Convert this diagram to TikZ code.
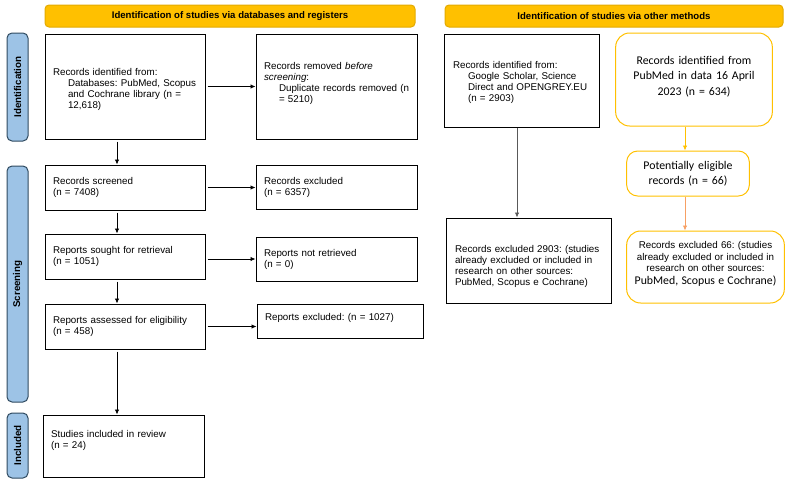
\documentclass[tikz,border=0pt]{standalone}
\usepackage{fontspec}
\setmainfont{Liberation Sans}
\newfontfamily\calfont{Carlito}
\usepackage{tikz}
\usetikzlibrary{arrows.meta}
\frenchspacing

\definecolor{hdrfill}{HTML}{FFC000}
\definecolor{hdrdraw}{HTML}{E3AA00}
\definecolor{phasefill}{HTML}{9DC3E6}
\definecolor{phasedraw}{HTML}{2F4A60}
\definecolor{ylwline}{HTML}{FFC000}
\definecolor{orgline}{HTML}{F7A064}
\definecolor{grayline}{HTML}{595959}

% indented block of lines
\newcommand{\indblock}[1]{\hspace*{15pt}\begin{tabular}[t]{@{}l@{}}#1\end{tabular}}

\tikzset{
	box/.style={shape=rectangle, draw=black, line width=1pt, align=left, inner xsep=8pt,
		font=\fontsize{9.8}{11}\selectfont},
	header/.style={shape=rectangle, rounded corners=4pt, draw=hdrdraw, fill=hdrfill, line width=1pt,
		minimum height=22pt, font=\bfseries\fontsize{9.6}{11}\selectfont},
	phase/.style={shape=rectangle, rounded corners=5pt, draw=phasedraw, fill=phasefill, line width=1pt,
		rotate=90, minimum height=21pt, font=\bfseries\fontsize{9.8}{11}\selectfont},
	softbox/.style={shape=rectangle, rounded corners=14pt, draw=ylwline, line width=1pt, align=center,
		font=\calfont\fontsize{11.8}{15.5}\selectfont},
	flow/.style={->, line width=0.8pt, shorten <=2pt},
	>={Latex[length=5pt,width=4.5pt]}
}

\begin{document}
\begin{tikzpicture}[x=1pt, y=-1pt]
	
	\useasboundingbox (0,0) rectangle (795,482);
	
	% headers
	\node[header, minimum width=370pt] (hdb) at (230, 16) {Identification of studies via databases and registers};
	\node[header, minimum width=338pt] (hot) at (614, 16) {Identification of studies via other methods};
	
	% phases
	\node[phase, minimum width=108pt] (phid) at (17.5, 87) {Identification};
	\node[phase, minimum width=236pt] (phsc) at (17.5, 284) {Screening};
	\node[phase, minimum width=65pt] (phin) at (17.5, 445.5) {Included};
	
	% databases and registers
	\node[box, text width=144pt, minimum height=105pt, text depth=29.5pt] (ida) at (125, 86.5)
		{Records identified from:\\ \indblock{Databases: PubMed, Scopus\\ and Cochrane library (n =\\ 12,618)}};
	\node[box, text width=145pt, minimum height=105pt, text depth=41pt] (remb) at (336.5, 86.5)
		{Records removed \emph{before}\\ \emph{screening}:\\ \indblock{Duplicate records removed (n\\ = 5210)}};
	\node[box, text width=144pt, minimum height=45pt] (scr) at (125, 187.5)
		{Records screened\\ (n = 7408)};
	\node[box, text width=145pt, minimum height=44pt] (rexcl) at (336.5, 187)
		{Records excluded\\ (n = 6357)};
	\node[box, text width=144pt, minimum height=45pt] (sought) at (125, 256.5)
		{Reports sought for retrieval\\ (n = 1051)};
	\node[box, text width=145pt, minimum height=44pt] (notret) at (336.5, 259)
		{Reports not retrieved\\ (n = 0)};
	\node[box, text width=144pt, minimum height=45pt] (asd) at (125, 326.5)
		{Reports assessed for eligibility\\ (n = 458)};
	\node[box, text width=150pt, minimum height=34pt, text depth=8pt] (repex) at (340, 321)
		{Reports excluded: (n = 1027)};
	\node[box, text width=145pt, minimum height=62pt, text depth=24pt] (incl) at (123.5, 446)
		{Studies included in review\\ (n = 24)};
	
	% other methods
	\node[box, inner xsep=9pt, text width=137pt, minimum height=93pt, text depth=31pt] (oth) at (521.5, 80.5)
		{Records identified from:\\ \indblock{Google Scholar, Science\\ Direct and OPENGREY.EU\\ (n = 2903)}};
	\node[box, inner xsep=9pt, text width=147pt, minimum height=85pt, text depth=24pt] (oex) at (528.5, 260.5)
		{Records excluded 2903: (studies\\ already excluded or included in\\ research on other sources:\\ PubMed, Scopus e Cochrane)};
	\node[softbox, text width=150pt, minimum height=93pt, text depth=39pt] (pmd) at (694, 79.5)
		{Records identified from\\ PubMed in data 16 April\\ 2023 (n = 634)};
	\node[softbox, rounded corners=11pt, text width=116pt, minimum height=45pt] (elig) at (688, 173.5)
		{Potentially eligible\\ records (n = 66)};
	\node[softbox, text width=151pt, minimum height=72pt, text depth=44pt, font=\fontsize{9.8}{11.5}\selectfont] (pex) at (705.5, 267)
		{Records excluded 66: (studies\\ already excluded or included in\\ research on other sources:\\[1pt] {\calfont\fontsize{11.8}{14}\selectfont PubMed, Scopus e Cochrane)}};
	
	\coordinate (spine) at (117, 0);
	\coordinate (ospine) at (517, 0);
	\coordinate (yspine) at (685, 0);
	
	\path[flow] (ida) edge (remb);
	\path[flow] (scr) edge (scr -| rexcl.west);
	\path[flow] (notret -| sought.east) edge (notret.west);
	\path[flow] (asd) edge (asd -| repex.west);
	\path[flow] (ida.south -| spine) edge (scr.north -| spine);
	\path[flow] (scr.south -| spine) edge (sought.north -| spine);
	\path[flow] (sought.south -| spine) edge (asd.north -| spine);
	\path[flow] (asd.south -| spine) edge (incl.north -| spine);
	
	\path[flow, shorten <=0pt] (oth.south -| ospine) edge[color=grayline] (oex.north -| ospine);
	\path[flow, shorten <=0pt] (pmd.south -| yspine) edge[color=ylwline] (elig.north -| yspine);
	\path[flow, shorten <=0pt] (elig.south -| yspine) edge[color=orgline] (pex.north -| yspine);
	
\end{tikzpicture}
\end{document}
